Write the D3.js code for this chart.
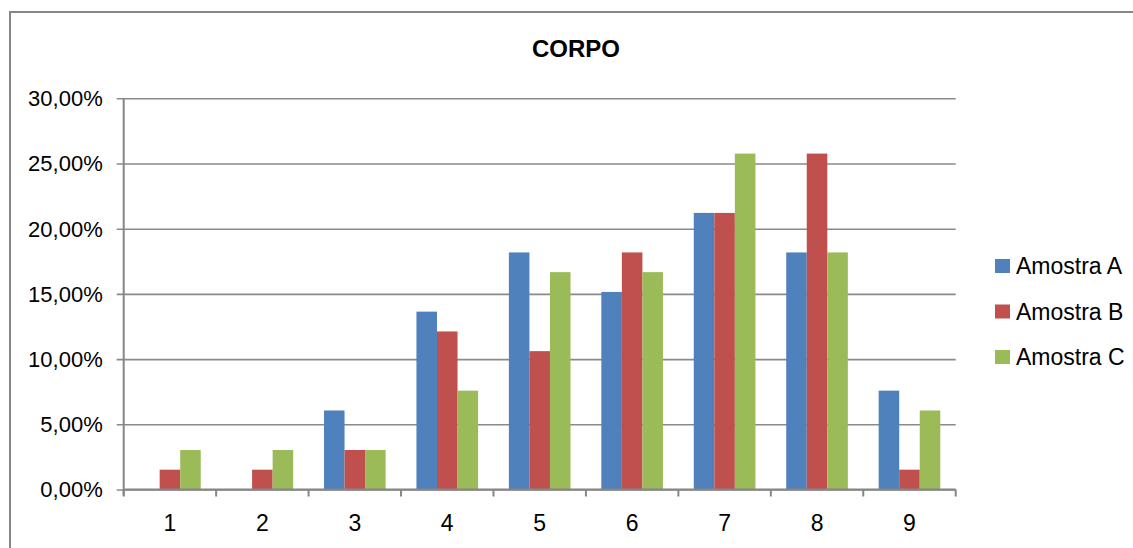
<!DOCTYPE html>
<html>
<head>
<meta charset="utf-8">
<script src="https://cdn.jsdelivr.net/npm/d3@7/dist/d3.min.js"></script>
<style>
  html, body { margin: 0; padding: 0; background: #fff; }
  svg { display: block; font-family: "Liberation Sans", Arial, sans-serif; }
</style>
</head>
<body>
<svg id="chart" width="1133" height="548"></svg>
<script>
// Categories (scores 1..9) and percentage values per sample
const categories = ["1", "2", "3", "4", "5", "6", "7", "8", "9"];
const seriesNames = ["Amostra A", "Amostra B", "Amostra C"];
const amostraA = [0, 0, 6.06, 13.64, 18.18, 15.15, 21.21, 18.18, 7.58];
const amostraB = [1.52, 1.52, 3.03, 12.12, 10.61, 18.18, 21.21, 25.76, 1.52];
const amostraC = [3.03, 3.03, 3.03, 7.58, 16.67, 16.67, 25.76, 18.18, 6.06];
const yTicks = [0, 5, 10, 15, 20, 25, 30];
const colors = ["#4F81BD", "#C0504D", "#9BBB59"];
const chartTitle = "CORPO";

const series = [amostraA, amostraB, amostraC];

const svg = d3.select("#chart");
const margin = { left: 123.7, right: 1133 - 955.7, top: 98.3, bottom: 548 - 489.5 };
const W = 1133, H = 548;
const x0 = margin.left, x1 = W - margin.right;
const yTop = margin.top, yBot = H - margin.bottom;

// Chart area border
svg.append("rect")
  .attr("x", 10).attr("y", 12)
  .attr("width", 1400).attr("height", 800)
  .attr("fill", "#fff")
  .attr("stroke", "#868686").attr("stroke-width", 2);

// Title
svg.append("text")
  .attr("x", 576).attr("y", 57)
  .attr("text-anchor", "middle")
  .attr("font-size", 24).attr("font-weight", "bold")
  .attr("fill", "#000")
  .text(chartTitle);

const x = d3.scaleBand().domain(categories).range([x0, x1]).paddingInner(0).paddingOuter(0);
// Each group holds 3 bars with a gap of 1.5 bar widths between groups
const barW = x.bandwidth() / 4.5;
const xs = d3.scaleBand().domain(d3.range(series.length)).range([barW * 0.75, barW * 3.75]);
const y = d3.scaleLinear().domain([0, 30]).range([yBot, yTop]);

const locale = d3.formatLocale({ decimal: ",", thousands: ".", grouping: [3], currency: ["", ""] });
const fmt = locale.format(".2f");

// Gridlines + y axis labels
const yAxis = d3.axisLeft(y)
  .tickValues(yTicks)
  .tickSize(-(x1 - x0))
  .tickSizeOuter(0)
  .tickFormat(d => fmt(d) + "%");

const gy = svg.append("g").attr("transform", `translate(${x0},0)`).call(yAxis);
gy.select(".domain").remove();
gy.selectAll(".tick line")
  .attr("x1", -7)
  .attr("stroke", "#8a8a8a").attr("stroke-width", 1.6);
gy.selectAll(".tick text")
  .attr("x", -21)
  .attr("dy", "0.34em")
  .attr("font-size", 22)
  .attr("font-family", "'Liberation Sans', Arial, sans-serif")
  .attr("fill", "#000");

// Bars
const groups = svg.append("g").selectAll("g")
  .data(categories)
  .join("g")
  .attr("transform", d => `translate(${x(d)},0)`);

groups.selectAll("rect")
  .data((d, i) => series.map((s, k) => ({ k, v: s[i] })))
  .join("rect")
  .attr("x", d => xs(d.k))
  .attr("width", xs.bandwidth())
  .attr("y", d => y(d.v))
  .attr("height", d => yBot - y(d.v))
  .attr("fill", d => colors[d.k]);

// Vertical axis line
svg.append("line")
  .attr("x1", x0).attr("x2", x0)
  .attr("y1", yTop).attr("y2", yBot + 6)
  .attr("stroke", "#868686").attr("stroke-width", 2);

// Category axis
const xAxis = d3.axisBottom(x).tickSize(0).tickSizeOuter(0);
const gx = svg.append("g").attr("transform", `translate(0,${yBot})`).call(xAxis);
gx.select(".domain").attr("stroke", "#868686").attr("stroke-width", 2)
  .attr("d", `M${x0},0H${x1}`);
gx.selectAll(".tick text")
  .attr("y", 0)
  .attr("dy", 0)
  .attr("transform", "translate(0,41)")
  .attr("font-size", 23)
  .attr("font-family", "'Liberation Sans', Arial, sans-serif")
  .attr("fill", "#000");

// Tick marks between categories
const boundaries = categories.map(c => x(c)).concat([x1]);
svg.append("g").selectAll("line")
  .data(boundaries)
  .join("line")
  .attr("x1", d => d).attr("x2", d => d)
  .attr("y1", yBot).attr("y2", yBot + 7)
  .attr("stroke", "#868686").attr("stroke-width", 2);

// Legend
const legend = svg.append("g");
seriesNames.forEach((name, i) => {
  const cy = 266 + i * 45.5;
  legend.append("rect")
    .attr("x", 995).attr("y", cy - 7)
    .attr("width", 15).attr("height", 14)
    .attr("fill", colors[i]);
  legend.append("text")
    .attr("x", 1016).attr("y", cy)
    .attr("dy", "0.36em")
    .attr("font-size", 23)
    .attr("fill", "#000")
    .text(name);
});
</script>
</body>
</html>
